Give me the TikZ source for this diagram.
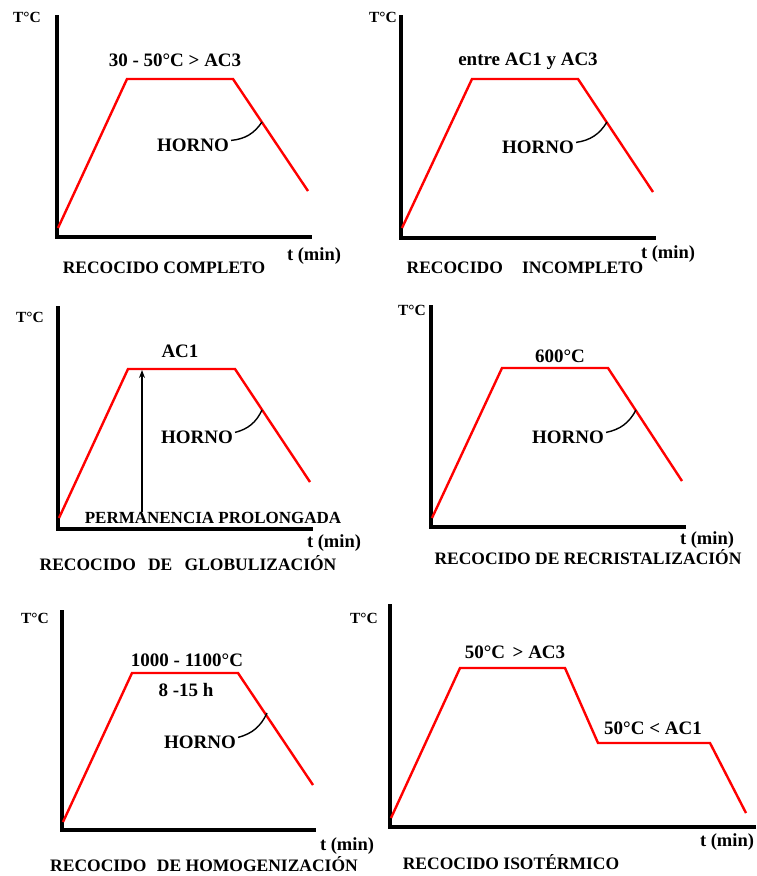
\documentclass[tikz,border=0pt]{standalone}
\usepackage{fontspec}
\setmainfont{Liberation Serif}
\usetikzlibrary{arrows.meta}
\begin{document}
\begin{tikzpicture}[x=1pt,y=-1pt,
  axis/.style={line width=3.8pt, line cap=butt, line join=miter},
  curve/.style={draw=red, line width=2.4pt, line join=miter},
  lbl/.style={font=\bfseries\fontsize{19}{19}\selectfont, inner sep=0pt},
  pplbl/.style={font=\bfseries\fontsize{17}{17}\selectfont, inner sep=0pt},
  small/.style={font=\bfseries\fontsize{15.5}{15.5}\selectfont, inner sep=0pt},
  tmin/.style={font=\bfseries\fontsize{18.5}{18.5}\selectfont, inner sep=0pt},
  ttl/.style={font=\bfseries\fontsize{17.5}{17.5}\selectfont, inner sep=0pt},
  tick/.style={line width=1.4pt}]
\useasboundingbox (0,0) rectangle (756,876);

% ---------- Panel 1 ----------
\coordinate (a1t) at (57,15); \coordinate (a1o) at (57,237); \coordinate (a1r) at (312,237);
\draw[axis] (a1t) -- (a1o) -- (a1r);
\coordinate (p1a) at (58,228); \coordinate (p1b) at (127,79); \coordinate (p1c) at (233,79); \coordinate (p1d) at (308,191);
\draw[curve] (p1a) -- (p1b) -- (p1c) -- (p1d);
\coordinate (h1) at (262,122);
\node[small] (y1) at (27,17) {T°C};
\node[lbl] (l1) at (175,60) {30 - 50°C > AC3};
\node[lbl] (o1) at (193,145) {HORNO};
\draw[tick] ([xshift=2pt,yshift=-2pt]o1.north east) to[bend right=25] (h1);
\node[tmin] (t1) at (314,256) {t (min)};
\node[ttl] (n1) at (164,268) {RECOCIDO COMPLETO};

% ---------- Panel 2 ----------
\coordinate (a2t) at (401,15); \coordinate (a2o) at (401,238); \coordinate (a2r) at (656,238);
\draw[axis] (a2t) -- (a2o) -- (a2r);
\coordinate (p2a) at (402,228); \coordinate (p2b) at (472,79); \coordinate (p2c) at (578,79); \coordinate (p2d) at (653,192);
\draw[curve] (p2a) -- (p2b) -- (p2c) -- (p2d);
\coordinate (h2) at (607,122);
\node[small] (y2) at (383,17) {T°C};
\node[lbl] (l2) at (528,61) {entre AC1 y AC3};
\node[lbl] (o2) at (538,147) {HORNO};
\draw[tick] ([xshift=2pt,yshift=-2pt]o2.north east) to[bend right=25] (h2);
\node[tmin] (t2) at (668,254) {t (min)};
\node[ttl] (n2) at (525,268) {RECOCIDO\hspace{1.1em}INCOMPLETO};

% ---------- Panel 3 ----------
\coordinate (a3t) at (58,306); \coordinate (a3o) at (58,529); \coordinate (a3r) at (313,529);
\draw[axis] (a3t) -- (a3o) -- (a3r);
\coordinate (p3a) at (59,518); \coordinate (p3b) at (128,369); \coordinate (p3c) at (235,369); \coordinate (p3d) at (310,482);
\draw[curve] (p3a) -- (p3b) -- (p3c) -- (p3d);
\coordinate (h3) at (262,410);
\coordinate (ar3) at (142,370);
\node[small] (y3) at (30,317) {T°C};
\node[lbl] (l3) at (180,351) {AC1};
\node[lbl] (o3) at (197,437) {HORNO};
\draw[tick] ([xshift=2pt,yshift=-2pt]o3.north east) to[bend right=25] (h3);
\node[pplbl] (pp3) at (213,518) {PERMANENCIA PROLONGADA};
\draw[line width=1.2pt, -{Stealth[length=8pt,width=6pt]}] ([xshift=-71pt]pp3.north) -- (ar3);
\node[tmin] (t3) at (334,543) {t (min)};
\node[ttl] (n3) at (188,563) {RECOCIDO\hspace{0.7em}DE\hspace{0.7em}GLOBULIZACIÓN};

% ---------- Panel 4 ----------
\coordinate (a4t) at (431,305); \coordinate (a4o) at (431,527); \coordinate (a4r) at (686,527);
\draw[axis] (a4t) -- (a4o) -- (a4r);
\coordinate (p4a) at (432,518); \coordinate (p4b) at (502,368); \coordinate (p4c) at (608,368); \coordinate (p4d) at (682,481);
\draw[curve] (p4a) -- (p4b) -- (p4c) -- (p4d);
\coordinate (h4) at (636,410);
\node[small] (y4) at (412,310) {T°C};
\node[lbl] (l4) at (560,356) {600°C};
\node[lbl] (o4) at (568,437) {HORNO};
\draw[tick] ([xshift=2pt,yshift=-2pt]o4.north east) to[bend right=25] (h4);
\node[tmin] (t4) at (707,540) {t (min)};
\node[ttl] (n4) at (588,557) {RECOCIDO DE RECRISTALIZACIÓN};

% ---------- Panel 5 ----------
\coordinate (a5t) at (62,610); \coordinate (a5o) at (62,830); \coordinate (a5r) at (316,830);
\draw[axis] (a5t) -- (a5o) -- (a5r);
\coordinate (p5a) at (63,822); \coordinate (p5b) at (132,673); \coordinate (p5c) at (238,673); \coordinate (p5d) at (313,785);
\draw[curve] (p5a) -- (p5b) -- (p5c) -- (p5d);
\coordinate (h5) at (267,713);
\node[small] (y5) at (35,618) {T°C};
\node[lbl] (l5) at (187,660) {1000 - 1100°C};
\node[lbl] (l5b) at (186,690) {8 -15 h};
\node[lbl] (o5) at (200,742) {HORNO};
\draw[tick] ([xshift=2pt,yshift=-2pt]o5.north east) to[bend right=25] (h5);
\node[tmin] (t5) at (347,846) {t (min)};
\node[ttl] (n5) at (204,864) {RECOCIDO\hspace{0.6em}DE HOMOGENIZACIÓN};

% ---------- Panel 6 ----------
\coordinate (a6t) at (390,604); \coordinate (a6o) at (390,827); \coordinate (a6r) at (756,827);
\draw[axis] (a6t) -- (a6o) -- (a6r);
\coordinate (p6a) at (391,818); \coordinate (p6b) at (460,668); \coordinate (p6c) at (565,668); \coordinate (p6d) at (598,743);
\coordinate (p6e) at (710,743); \coordinate (p6f) at (746,813);
\draw[curve] (p6a) -- (p6b) -- (p6c) -- (p6d) -- (p6e) -- (p6f);
\node[small] (y6) at (364,618) {T°C};
\node[lbl] (l6) at (515,652) {50°C\hspace{0.4em}> AC3};
\node[lbl] (l6b) at (653,728) {50°C < AC1};
\node[tmin] (t6) at (727,842) {t (min)};
\node[ttl] (n6) at (511,862) {RECOCIDO ISOTÉRMICO};
\end{tikzpicture}
\end{document}
